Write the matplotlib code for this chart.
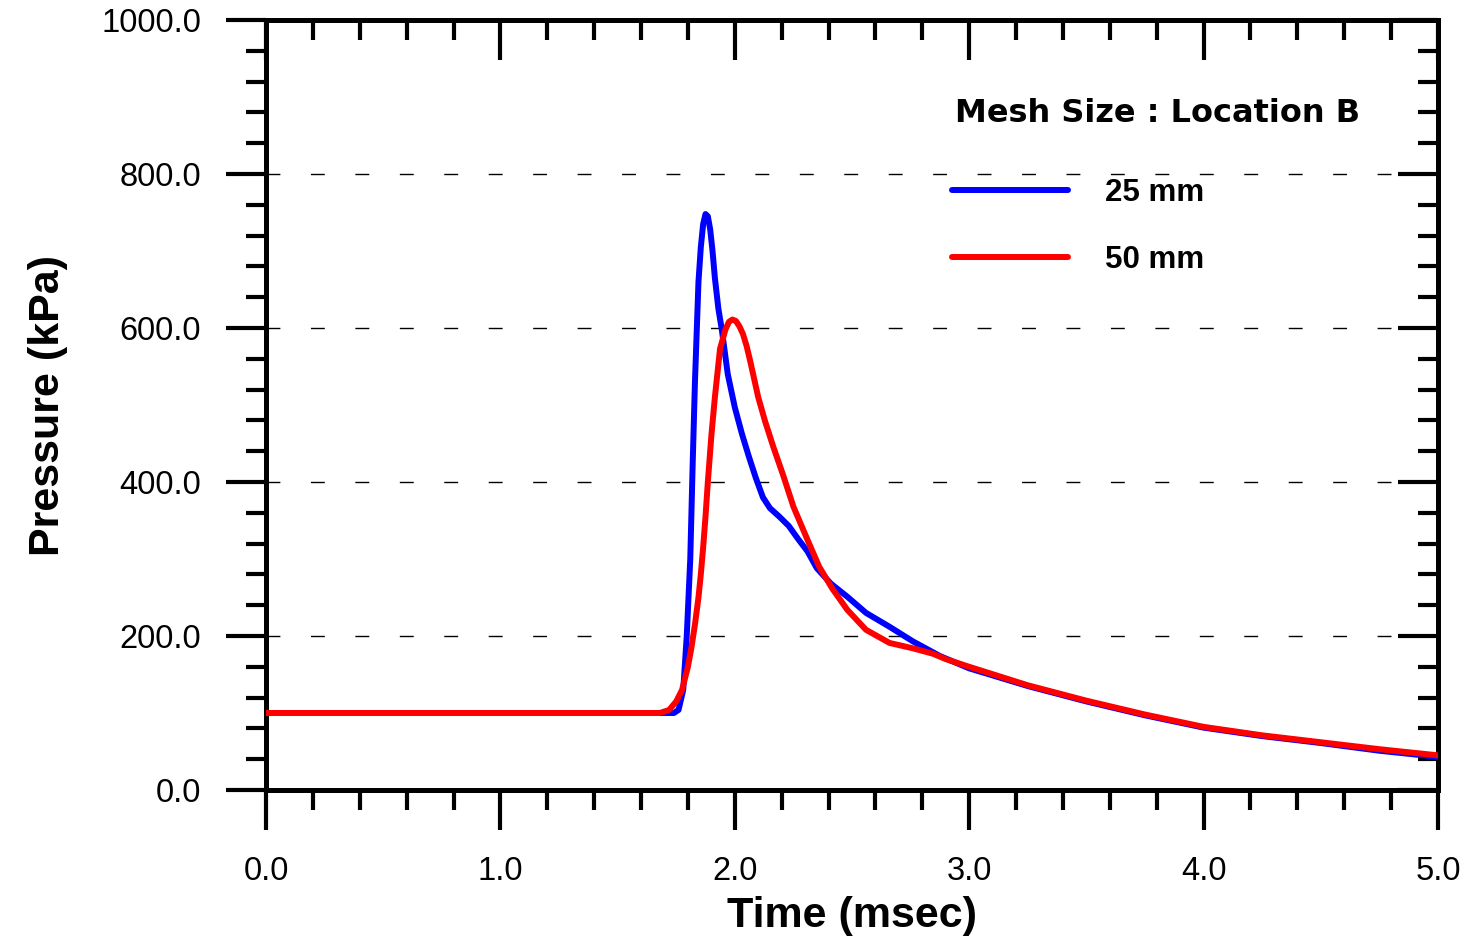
import matplotlib
matplotlib.use("Agg")
import matplotlib.pyplot as plt
from matplotlib.ticker import MultipleLocator, FormatStrFormatter

# time (msec) and pressure (kPa)
t_25 = [0.0, 1.70, 1.74, 1.76, 1.78, 1.795, 1.81, 1.82, 1.83, 1.845, 1.855, 1.865,
        1.875, 1.885, 1.895, 1.905, 1.915, 1.93, 1.945, 1.97, 2.00, 2.03, 2.06, 2.09,
        2.12, 2.15, 2.19, 2.23, 2.27, 2.31, 2.35, 2.41, 2.48, 2.56, 2.66, 2.76,
        2.875, 3.0, 3.25, 3.5, 3.75, 4.0, 4.25, 4.5, 4.75, 5.0]
p_25 = [100, 100, 100, 104, 130, 200, 300, 420, 530, 660, 705, 735,
        748, 745, 728, 700, 665, 625, 597, 540, 497, 463, 433, 405,
        380, 366, 355, 343, 326, 310, 288, 268, 251, 230, 212, 193,
        174, 158, 135, 115, 97, 81, 70, 61, 51, 43]

t_50 = [0.0, 1.68, 1.72, 1.75, 1.775, 1.80, 1.815, 1.83, 1.845, 1.855, 1.865, 1.875,
        1.885, 1.90, 1.915, 1.937, 1.96, 1.975, 1.99, 2.005, 2.02, 2.035, 2.05, 2.065,
        2.10, 2.13, 2.165, 2.205, 2.25, 2.31, 2.36, 2.415, 2.48, 2.56, 2.66, 2.76,
        2.845, 2.90, 3.0, 3.25, 3.5, 3.75, 4.0, 4.25, 4.5, 4.75, 5.0]
p_50 = [100, 100, 104, 115, 130, 160, 185, 215, 250, 280, 315, 355,
        400, 460, 510, 573, 598, 608, 611, 609, 602, 592, 577, 558,
        510, 478, 445, 410, 368, 325, 290, 262, 234, 208, 191, 184,
        177, 170, 160, 136, 116, 98, 82, 71, 62, 53, 45]

x_major = [0, 1, 2, 3, 4, 5]
y_major = [0, 200, 400, 600, 800, 1000]
grid_y = [200, 400, 600, 800]

plt.rcParams['font.family'] = ['Liberation Sans', 'DejaVu Sans']

fig = plt.figure(figsize=(14.64, 9.39), dpi=100)
ax = fig.add_axes([266 / 1464, 1 - 790 / 939, 1172 / 1464, 770 / 939])

for g in grid_y:
    ax.axhline(g, color='black', lw=1.0, dashes=(10, 22), zorder=1)

ax.plot(t_25, p_25, color='#0000ff', lw=4.3, label='25 mm', zorder=3,
        solid_capstyle='round', solid_joinstyle='round')
ax.plot(t_50, p_50, color='#ff0000', lw=4.3, label='50 mm', zorder=4,
        solid_capstyle='round', solid_joinstyle='round')

ax.set_xlim(0, 5)
ax.set_ylim(0, 1000)
ax.set_xticks(x_major)
ax.set_yticks(y_major)
ax.xaxis.set_minor_locator(MultipleLocator(0.2))
ax.yaxis.set_minor_locator(MultipleLocator(40))
ax.xaxis.set_major_formatter(FormatStrFormatter('%.1f'))
ax.yaxis.set_major_formatter(FormatStrFormatter('%.1f'))

ax.tick_params(which='major', direction='out', length=28.8, width=3, labelsize=23.5)
ax.tick_params(which='minor', direction='out', length=14.4, width=3)
ax.tick_params(axis='x', which='major', pad=19)
ax.tick_params(axis='y', which='major', pad=18)

for s in ax.spines.values():
    s.set_linewidth(3.6)

# top and right: ticks point inward, no labels
top = ax.secondary_xaxis('top')
top.set_xticks(x_major)
top.xaxis.set_minor_locator(MultipleLocator(0.2))
top.tick_params(which='major', direction='in', length=28.8, width=3, labeltop=False)
top.tick_params(which='minor', direction='in', length=14.4, width=3)
top.spines['top'].set_linewidth(3.6)

right = ax.secondary_yaxis('right')
right.set_yticks(y_major)
right.yaxis.set_minor_locator(MultipleLocator(40))
right.tick_params(which='major', direction='in', length=28.8, width=3, labelright=False)
right.tick_params(which='minor', direction='in', length=14.4, width=3)
right.spines['right'].set_linewidth(3.6)

ax.set_xlabel('Time (msec)', fontsize=31, fontweight='bold', labelpad=6)
ax.set_ylabel('Pressure (kPa)', fontsize=31, fontweight='bold', labelpad=24)

ax.legend(loc='center left', bbox_to_anchor=(0.5853, 0.7318), frameon=False,
          borderpad=0, borderaxespad=0, handlelength=3.7, handletextpad=1.2,
          labelspacing=1.2, prop={'size': 22.5, 'weight': 'bold'})
ax.text(0.5878, 0.8792, 'Mesh Size : Location B', transform=ax.transAxes,
        ha='left', va='center', family='DejaVu Sans', fontsize=23,
        fontweight='bold')

fig.savefig('out.png', dpi=100)
